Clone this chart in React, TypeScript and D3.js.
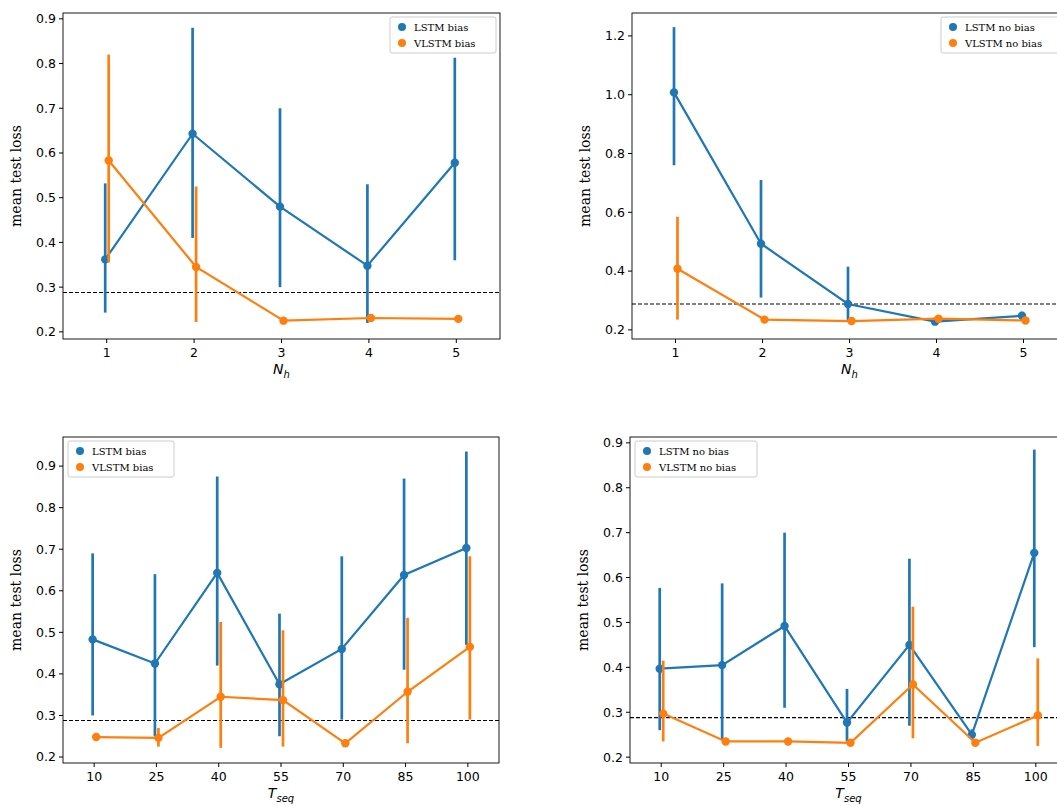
import React from "react";
import * as d3 from "d3";

const BLUE = "#1f77b4", ORANGE = "#ff7f0e";
const nhCats = ["1", "2", "3", "4", "5"];
const tseqCats = ["10", "25", "40", "55", "70", "85", "100"];

const lstmBiasNh = [0.362, 0.643, 0.48, 0.348, 0.578];
const lstmBiasNhLo = [0.243, 0.41, 0.30, 0.22, 0.36];
const lstmBiasNhHi = [0.532, 0.88, 0.70, 0.53, 0.813];
const vlstmBiasNh = [0.583, 0.345, 0.225, 0.231, 0.229];
const vlstmBiasNhLo = [0.355, 0.222, 0.22, 0.225, 0.224];
const vlstmBiasNhHi = [0.82, 0.525, 0.23, 0.24, 0.235];

const lstmNoNh = [1.008, 0.493, 0.288, 0.228, 0.248];
const lstmNoNhLo = [0.76, 0.31, 0.23, 0.222, 0.232];
const lstmNoNhHi = [1.23, 0.71, 0.415, 0.235, 0.262];
const vlstmNoNh = [0.408, 0.235, 0.23, 0.238, 0.232];
const vlstmNoNhLo = [0.235, 0.23, 0.225, 0.23, 0.225];
const vlstmNoNhHi = [0.585, 0.24, 0.235, 0.245, 0.24];

const lstmBiasT = [0.483, 0.425, 0.643, 0.375, 0.46, 0.638, 0.703];
const lstmBiasTLo = [0.30, 0.25, 0.42, 0.25, 0.29, 0.41, 0.47];
const lstmBiasTHi = [0.69, 0.64, 0.875, 0.545, 0.683, 0.87, 0.935];
const vlstmBiasT = [0.248, 0.246, 0.345, 0.337, 0.233, 0.357, 0.465];
const vlstmBiasTLo = [0.24, 0.225, 0.222, 0.225, 0.228, 0.233, 0.29];
const vlstmBiasTHi = [0.257, 0.27, 0.525, 0.505, 0.238, 0.535, 0.683];

const lstmNoT = [0.397, 0.405, 0.492, 0.277, 0.45, 0.25, 0.655];
const lstmNoTLo = [0.26, 0.24, 0.31, 0.235, 0.27, 0.24, 0.445];
const lstmNoTHi = [0.577, 0.587, 0.70, 0.352, 0.642, 0.262, 0.885];
const vlstmNoT = [0.297, 0.235, 0.235, 0.232, 0.362, 0.232, 0.293];
const vlstmNoTLo = [0.235, 0.23, 0.23, 0.225, 0.242, 0.225, 0.225];
const vlstmNoTHi = [0.415, 0.24, 0.24, 0.238, 0.535, 0.238, 0.42];

const baseline = 0.288;
const SANS = "DejaVu Sans", SERIF = "DejaVu Serif";

type S = { name: string; color: string; v: number[]; lo: number[]; hi: number[]; dx: number };

function Panel(p: {
  x0: number; x1: number; y0: number; y1: number; yd: [number, number]; ticks: number[]; fmt: string;
  cats: string[]; series: S[]; xlabel: string; sub: string; legend: "ur" | "ul"; lw: number;
}) {
  const x = d3.scaleLinear().domain([-0.5, p.cats.length - 0.5]).range([p.x0, p.x1]);
  const y = d3.scaleLinear().domain(p.yd).range([p.y1, p.y0]);
  const f = d3.format(p.fmt);
  const line = d3.line<number>().x((_, i) => x(i)).y((d) => y(d));
  const lw = p.lw, lx = p.legend === "ur" ? p.x1 - lw - 4 : p.x0 + 5, ly = p.y0 + 4;
  return (
    <g>
      <line x1={p.x0} x2={p.x1} y1={y(baseline)} y2={y(baseline)} stroke="#000" strokeDasharray="4,2" strokeWidth={1.1} />
      {p.series.map((s) => (
        <g key={s.name}>
          {s.v.map((v, i) => (
            <line key={i} x1={x(i) + s.dx} x2={x(i) + s.dx} y1={y(s.lo[i])} y2={y(s.hi[i])} stroke={s.color} strokeWidth={2.7} />
          ))}
          <path d={line(s.v) || ""} fill="none" stroke={s.color} strokeWidth={2.2} transform={`translate(${s.dx},0)`} />
          {s.v.map((v, i) => <circle key={i} cx={x(i) + s.dx} cy={y(v)} r={4.2} fill={s.color} />)}
        </g>
      ))}
      <rect x={p.x0} y={p.y0} width={p.x1 - p.x0} height={p.y1 - p.y0} fill="none" stroke="#000" strokeWidth={0.9} />
      {p.ticks.map((t) => (
        <g key={t}>
          <line x1={p.x0 - 4} x2={p.x0} y1={y(t)} y2={y(t)} stroke="#000" />
          <text x={p.x0 - 7} y={y(t)} dy="0.35em" textAnchor="end" fontFamily={SANS} fontSize={12.5}>{f(t)}</text>
        </g>
      ))}
      {p.cats.map((c, i) => (
        <g key={c}>
          <line x1={x(i)} x2={x(i)} y1={p.y1} y2={p.y1 + 4} stroke="#000" />
          <text x={x(i)} y={p.y1 + 18} textAnchor="middle" fontFamily={SANS} fontSize={12.5}>{c}</text>
        </g>
      ))}
      <text x={(p.x0 + p.x1) / 2} y={p.y1 + 35} textAnchor="middle" fontFamily={SANS} fontSize={14} fontStyle="italic">
        {p.xlabel}<tspan fontSize={10} dy={4}>{p.sub}</tspan>
      </text>
      <text transform={`translate(${p.x0 - 42},${(p.y0 + p.y1) / 2}) rotate(-90)`} textAnchor="middle" fontFamily={SERIF} fontSize={14}>mean test loss</text>
      <g>
        <rect x={lx} y={ly} width={lw} height={36} fill="#fff" fillOpacity={0.8} stroke="#ccc" rx={2} />
        {p.series.map((s, i) => (
          <g key={s.name}>
            <circle cx={lx + 12} cy={ly + 10 + i * 16} r={4} fill={s.color} />
            <text x={lx + 24} y={ly + 10 + i * 16} dy="0.35em" fontFamily={SERIF} fontSize={10}>{s.name}</text>
          </g>
        ))}
      </g>
    </g>
  );
}

export default function App() {
  const mk = (name: string, color: string, v: number[], lo: number[], hi: number[], dx: number): S => ({ name, color, v, lo, hi, dx });
  return (
    <svg width={1057} height={806} style={{ position: "absolute", left: 0, top: 0, background: "#fff" }}>
      <Panel x0={63} x1={500} y0={13} y1={339} yd={[0.184, 0.913]} ticks={[0.2, 0.3, 0.4, 0.5, 0.6, 0.7, 0.8, 0.9]} fmt=".1f"
        cats={nhCats} xlabel="N" sub="h" legend="ur" lw={106}
        series={[mk("LSTM bias", BLUE, lstmBiasNh, lstmBiasNhLo, lstmBiasNhHi, -1.5), mk("VLSTM bias", ORANGE, vlstmBiasNh, vlstmBiasNhLo, vlstmBiasNhHi, 2)]} />
      <Panel x0={632} x1={1067} y0={13} y1={339} yd={[0.169, 1.278]} ticks={[0.2, 0.4, 0.6, 0.8, 1.0, 1.2]} fmt=".1f"
        cats={nhCats} xlabel="N" sub="h" legend="ur" lw={122}
        series={[mk("LSTM no bias", BLUE, lstmNoNh, lstmNoNhLo, lstmNoNhHi, -1.5), mk("VLSTM no bias", ORANGE, vlstmNoNh, vlstmNoNhLo, vlstmNoNhHi, 2)]} />
      <Panel x0={63} x1={499} y0={437} y1={763} yd={[0.1856, 0.97]} ticks={[0.2, 0.3, 0.4, 0.5, 0.6, 0.7, 0.8, 0.9]} fmt=".1f"
        cats={tseqCats} xlabel="T" sub="seq" legend="ul" lw={106}
        series={[mk("LSTM bias", BLUE, lstmBiasT, lstmBiasTLo, lstmBiasTHi, -1.5), mk("VLSTM bias", ORANGE, vlstmBiasT, vlstmBiasTLo, vlstmBiasTHi, 2)]} />
      <Panel x0={630} x1={1067} y0={437} y1={763} yd={[0.187, 0.913]} ticks={[0.2, 0.3, 0.4, 0.5, 0.6, 0.7, 0.8, 0.9]} fmt=".1f"
        cats={tseqCats} xlabel="T" sub="seq" legend="ul" lw={122}
        series={[mk("LSTM no bias", BLUE, lstmNoT, lstmNoTLo, lstmNoTHi, -1.5), mk("VLSTM no bias", ORANGE, vlstmNoT, vlstmNoTLo, vlstmNoTHi, 2)]} />
    </svg>
  );
}
